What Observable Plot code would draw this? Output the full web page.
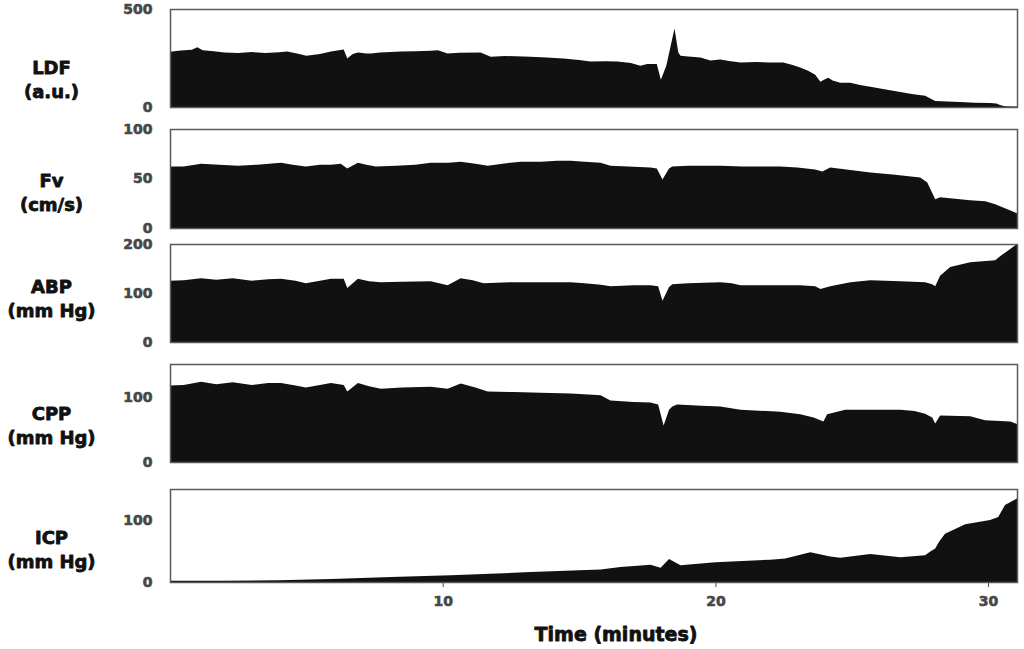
<!DOCTYPE html>
<html>
<head>
<meta charset="utf-8">
<script src="https://cdn.jsdelivr.net/npm/d3@7"></script>
<script src="https://cdn.jsdelivr.net/npm/@observablehq/plot@0.6"></script>
<style>
  html, body { margin: 0; padding: 0; background: #fff; }
  #chart { position: relative; width: 1024px; height: 649px; overflow: hidden; }
  #chart svg { position: absolute; left: 0; }
  #chart svg [aria-label^="y-axis"] text,
  #chart svg [aria-label^="x-axis"] text { stroke: currentColor; stroke-width: 0.6px; paint-order: stroke; }
</style>
</head>
<body>
<div id="chart"></div>
<script>
// ---- Data (time in minutes) ----
const ldfT = [0,0.4,0.8,1.0,1.2,1.6,2.0,2.5,3.0,3.5,4.0,4.3,4.7,5.0,5.5,5.9,6.37,6.5,6.7,6.89,7.2,7.36,7.7,8.1,8.46,9.0,9.56,9.82,10.18,10.6,11.39,11.76,12.3,13.22,13.8,14.43,15.0,15.42,16.0,16.41,16.9,17.25,17.5,17.85,18.0,18.2,18.5,18.64,18.72,19.0,19.45,19.82,20.18,20.5,20.92,21.5,22.01,22.49,22.8,23.11,23.4,23.66,23.85,24.0,24.14,24.3,24.58,24.95,25.3,25.68,26.2,26.78,27.2,27.69,28.06,28.5,28.97,29.5,30.07,30.3,30.44,30.6,31.06];
const ldfV = [282,288,292,305,290,285,278,276,280,275,279,283,272,262,270,283,293,247,270,278,273,273,278,280,283,285,287,290,273,277,278,257,260,257,252,247,240,232,234,232,225,211,220,220,139,210,400,278,262,258,252,237,242,235,227,230,227,227,215,201,185,165,129,140,149,135,124,124,112,103,90,77,66,57,31,28,26,22,21,18,10,4,2];

const fvT = [0,0.5,1.14,1.8,2.5,3.2,4.07,4.5,4.98,5.5,5.9,6.26,6.5,6.89,7.2,7.55,8.3,9.0,9.56,10.2,10.66,11.2,11.65,12.2,12.86,13.6,14.2,14.69,15.2,15.79,16.15,16.8,17.62,17.85,18.06,18.3,18.42,19.0,20.18,21.0,22.38,23.0,23.66,23.92,24.21,24.8,25.68,26.5,27.51,27.77,28.06,28.24,28.6,29.34,29.9,30.26,30.62,31.06];
const fvV = [62,62,65,64,63,64,66,64,62,64,64,65,60,66,64,62,63,64,66,66,67,65,63,65,67,67,68,68,67,66,63,62,61,60,49,60,62,63,63,62,62,61,59,57,61,59,56,54,51,46,29,31,30,28,27,24,20,15];

const abpT = [0,0.5,1.14,1.7,2.3,3.0,3.6,4.07,4.6,4.98,5.5,5.9,6.37,6.5,6.89,7.3,7.73,8.5,9.56,10.18,10.66,11.1,11.5,12.5,13.59,14.69,15.2,15.8,16.15,17.0,17.62,17.9,18.06,18.3,18.42,19.0,20.18,20.6,20.92,22.0,23.11,23.66,23.85,24.21,24.95,25.68,26.78,27.69,27.95,28.06,28.24,28.61,29.34,30.26,30.44,30.81,31.06];
const abpV = [125,126,130,127,130,125,128,129,125,120,125,129,129,110,129,124,122,123,124,116,130,126,120,122,122,122,120,117,114,116,116,114,84,112,118,120,122,120,116,116,116,114,108,114,122,126,124,122,118,114,135,153,163,167,175,190,200];

const cppT = [0,0.5,1.14,1.7,2.3,3.0,3.6,4.07,4.6,4.98,5.5,5.9,6.37,6.5,6.89,7.3,7.73,8.5,9.56,10.18,10.66,11.2,11.65,12.6,13.59,14.69,15.5,15.79,16.15,17.0,17.62,17.9,18.1,18.3,18.42,18.6,19.5,20.18,20.92,22.38,23.11,23.6,23.96,24.1,24.76,25.5,26.78,27.3,27.69,27.95,28.06,28.24,29.34,29.89,30.81,31.06];
const cppV = [117,118,123,119,122,118,121,121,117,114,118,121,118,108,121,116,112,114,115,112,120,114,108,107,106,105,103,102,94,92,91,88,56,80,85,88,86,85,80,77,73,68,62,73,80,80,80,78,74,68,59,71,70,64,62,58];

const icpT = [0,2,4,5.9,8.1,10.29,13.22,15.79,16.52,17.62,17.99,18.3,18.72,20.0,22.01,22.56,23.48,24.21,24.58,25.68,26.78,27.69,27.88,28.06,28.2,28.42,29.16,30.07,30.37,30.62,30.99,31.06];
const icpV = [2,2,3,5,8,11,16,20,24,28,23,37,27,32,36,38,48,41,39,45,40,43,49,54,65,78,93,100,105,124,133,135];

const panelLabels = ["LDF\n(a.u.)", "Fv\n(cm/s)", "ABP\n(mm Hg)", "CPP\n(mm Hg)", "ICP\n(mm Hg)"];
const yMax = [500, 100, 200, 150, 150];
const yTicks = [[0, 500], [0, 50, 100], [0, 100, 200], [0, 100], [0, 100]];
const xTicks = [10, 20, 30];
const xTitle = "Time (minutes)";

// ---- Layout ----
const frames = [[9,107],[129,228],[244,342],[364,462],[489,582]];
const labelDy = [20, 12, 4, 11, 12];
const series = [[ldfT, ldfV], [fvT, fvV], [abpT, abpV], [cppT, cppV], [icpT, icpV]];

const font = "'DejaVu Sans', 'Liberation Sans', Arial, sans-serif";
const chart = document.getElementById("chart");

series.forEach(([T, V], i) => {
  const data = T.map((t, k) => ({t, v: V[k]}));
  const [top, bottom] = frames[i];
  const last = i === series.length - 1;
  const mt = 12, mb = last ? 649 - bottom : 12;
  const marks = [
    Plot.areaY(data, {x: "t", y: "v", fill: "#111", curve: "linear"}),
    Plot.frame({stroke: "#5a5a5a", strokeWidth: 1.5}),
    Plot.text([panelLabels[i]], {
      frameAnchor: "left", dx: -119, dy: labelDy[i], text: d => d,
      textAnchor: "middle", lineAnchor: "middle", lineHeight: 1.35,
      fontSize: 18, fontWeight: "bold", fill: "#111",
      stroke: "#111", strokeWidth: 0.8, paintOrder: "stroke"
    })
  ];
  if (last) {
    marks.push(Plot.text([xTitle], {
      frameAnchor: "bottom", dx: 22, dy: 52, text: d => d,
      textAnchor: "middle", lineAnchor: "middle",
      fontSize: 19, fontWeight: "bold", fill: "#111",
      stroke: "#111", strokeWidth: 0.8, paintOrder: "stroke"
    }));
  }
  const svg = Plot.plot({
    width: 1024,
    height: bottom - top + mt + mb,
    marginLeft: 170, marginRight: 7, marginTop: mt, marginBottom: mb,
    x: last
      ? {domain: [0, 31.06], ticks: xTicks, tickSize: 5, tickPadding: 9, label: null}
      : {domain: [0, 31.06], axis: null},
    y: {domain: [0, yMax[i]], ticks: yTicks[i], tickSize: 0, tickPadding: 18, label: null},
    style: `background: none; overflow: visible; font-family: ${font}; font-size: 14px; font-weight: bold; color: #474747;`,
    marks
  });
  svg.style.top = (top - mt) + "px";
  chart.appendChild(svg);
});
</script>
</body>
</html>
